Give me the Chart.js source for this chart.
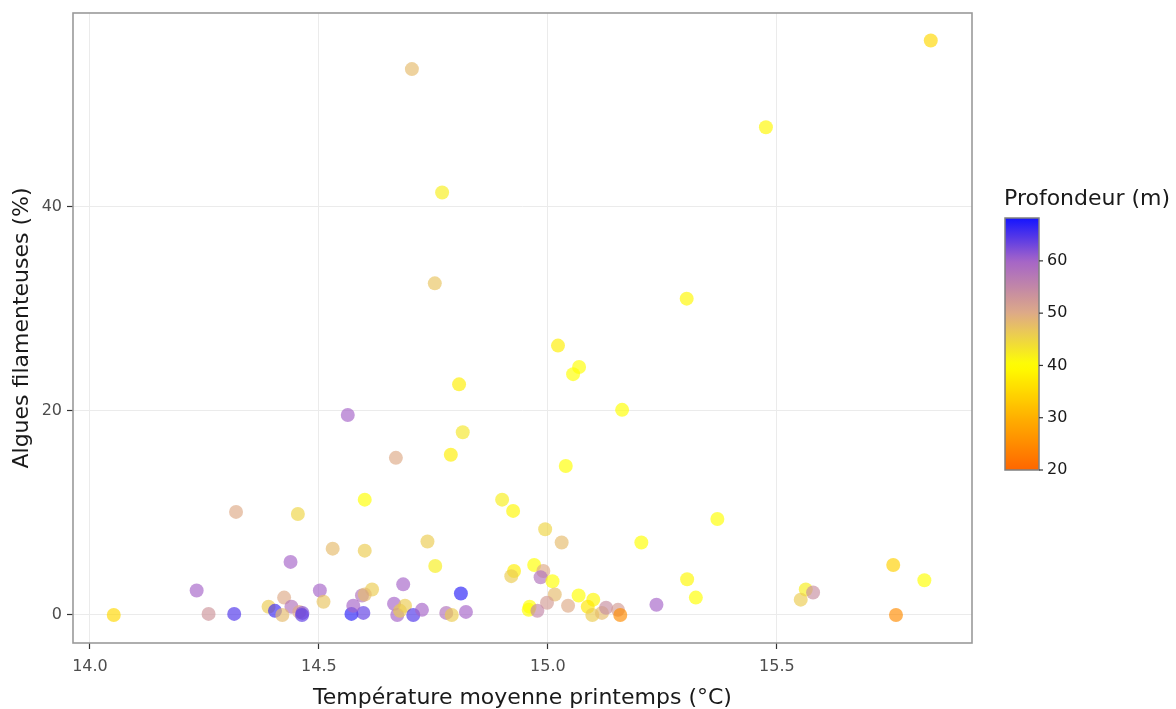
<!DOCTYPE html>
<html>
<head>
<meta charset="utf-8">
<script src="https://cdn.jsdelivr.net/npm/chart.js@4.4.1/dist/chart.umd.min.js"></script>
<style>
  html, body { margin: 0; padding: 0; background: #ffffff; }
  #wrap { width: 1176px; height: 709px; position: relative; }
</style>
</head>
<body>
<div id="wrap"><canvas id="c" width="1176" height="709"></canvas></div>
<script>
// ---- Data ----
const temperature = [
  14.052, 14.319, 14.454, 14.600, 14.530, 14.600, 14.438, 14.233, 14.502, 14.616,
  14.594, 14.600, 14.510, 14.424, 14.390, 14.404, 14.440, 14.420, 14.457, 14.464,
  14.463, 14.259, 14.315, 14.571, 14.597, 14.575, 14.684, 14.664, 14.671, 14.677,
  14.688, 14.737, 14.754, 14.706, 14.725, 14.810, 14.778, 14.790, 14.821, 14.900,
  14.924, 14.994, 15.030, 15.204, 14.970, 14.926, 14.920, 14.990, 14.984, 15.010,
  15.015, 15.067, 15.099, 15.087, 14.998, 15.044, 14.960, 14.958, 14.977, 15.097,
  15.118, 15.127, 15.153, 15.158, 15.237, 15.370, 15.304, 15.323, 15.563, 15.579,
  15.552, 15.754, 15.822, 15.760, 14.703, 15.836, 15.476, 14.769, 14.753, 15.303,
  15.022, 15.068, 15.055, 14.806, 15.162, 14.563, 14.814, 14.788, 14.668, 15.039
];
const algues = [
  0.0, 10.1, 9.9, 11.3, 6.5, 6.3, 5.2, 2.4, 2.4, 2.5,
  1.9, 2.0, 1.3, 1.7, 0.8, 0.4, 0.8, 0.0, 0.3, 0.2,
  0.0, 0.1, 0.1, 0.1, 0.2, 0.9, 3.0, 1.1, 0.0, 0.4,
  0.9, 7.2, 4.8, 0.0, 0.5, 2.1, 0.2, 0.0, 0.3, 11.3,
  10.2, 8.4, 7.1, 7.1, 4.9, 4.3, 3.8, 4.3, 3.7, 3.3,
  2.0, 1.9, 1.5, 0.8, 1.2, 0.9, 0.8, 0.5, 0.4, 0.0,
  0.2, 0.7, 0.5, 0.0, 1.0, 9.4, 3.5, 1.7, 2.5, 2.2,
  1.5, 4.9, 3.4, 0.0, 53.5, 56.3, 47.8, 41.4, 32.5, 31.0,
  26.4, 24.3, 23.6, 22.6, 20.1, 19.6, 17.9, 15.7, 15.4, 14.6
];
const profondeur = [
  35, 50, 45, 40, 48, 46, 60, 60, 60, 46,
  58, 48, 47, 50, 46, 66, 58, 48, 50, 62,
  64, 53, 65, 67, 64, 60, 60, 60, 60, 46,
  46, 46, 42, 65, 60, 67, 58, 46, 60, 42,
  39, 45, 48, 40, 40, 38, 46, 50, 58, 40,
  48, 40, 39, 37, 52, 50, 40, 40, 55, 46,
  48, 54, 52, 25, 60, 40, 39, 40, 42, 54,
  46, 34, 40, 25, 48, 35, 39, 42, 47, 39,
  38, 40, 40, 38, 40, 60, 43, 38, 50, 40
];
const xTicks = [14.0, 14.5, 15.0, 15.5];
const yTicks = [0, 20, 40];
const depthTicks = [20, 30, 40, 50, 60];

// ---- Colour scale ----
const depthMin = 20, depthMax = 68.2;
const colourStops = [
  [20, [255, 102, 0]],
  [30, [255, 176, 0]],
  [40, [255, 255, 0]],
  [50, [222, 170, 135]],
  [60, [165, 100, 200]],
  [68.2, [20, 20, 255]]
];
function depthRGB(d) {
  if (d <= colourStops[0][0]) return colourStops[0][1];
  for (let i = 1; i < colourStops.length; i++) {
    const [d1, c1] = colourStops[i];
    const [d0, c0] = colourStops[i - 1];
    if (d <= d1) {
      const t = (d - d0) / (d1 - d0);
      return c0.map((v, k) => Math.round(v + (c1[k] - v) * t));
    }
  }
  return colourStops[colourStops.length - 1][1];
}
function depthColour(d, a) {
  const c = depthRGB(d);
  return `rgba(${c[0]},${c[1]},${c[2]},${a})`;
}

const points = temperature.map((t, i) => ({ x: t, y: algues[i] }));
const pointColours = profondeur.map(d => depthColour(d, 0.66));

const FONT = "'DejaVu Sans', Verdana, sans-serif";

const panelAndLegend = {
  id: 'panelAndLegend',
  afterDraw(chart) {
    const ctx = chart.ctx;
    const a = chart.chartArea;
    ctx.save();
    ctx.strokeStyle = '#9a9a9a';
    ctx.lineWidth = 1.6;
    ctx.strokeRect(a.left, a.top, a.right - a.left, a.bottom - a.top);

    // colour bar
    const bx = 1005, bw = 34, by0 = 218, by1 = 470;
    const grad = ctx.createLinearGradient(0, by1, 0, by0);
    const steps = 40;
    for (let s = 0; s <= steps; s++) {
      const d = depthMin + (depthMax - depthMin) * s / steps;
      grad.addColorStop(s / steps, depthColour(d, 1));
    }
    ctx.fillStyle = grad;
    ctx.fillRect(bx, by0, bw, by1 - by0);
    ctx.strokeStyle = '#808080';
    ctx.lineWidth = 1.5;
    ctx.strokeRect(bx, by0, bw, by1 - by0);

    ctx.fillStyle = '#1a1a1a';
    ctx.font = `16px ${FONT}`;
    ctx.textBaseline = 'middle';
    ctx.textAlign = 'left';
    depthTicks.forEach(d => {
      const y = by1 - (d - depthMin) / (depthMax - depthMin) * (by1 - by0);
      ctx.strokeStyle = '#333';
      ctx.lineWidth = 1.2;
      ctx.beginPath();
      ctx.moveTo(bx + bw, y);
      ctx.lineTo(bx + bw + 4, y);
      ctx.stroke();
      ctx.fillText(String(d), bx + bw + 8, y);
    });
    ctx.font = `22px ${FONT}`;
    ctx.fillText('Profondeur (m)', 1004, 199);
    ctx.restore();
  }
};

new Chart(document.getElementById('c'), {
  type: 'scatter',
  data: {
    datasets: [{
      data: points,
      pointRadius: 7,
      pointHoverRadius: 7,
      pointBorderWidth: 0,
      pointBackgroundColor: pointColours,
      borderColor: 'rgba(0,0,0,0)'
    }]
  },
  options: {
    responsive: false,
    animation: false,
    events: [],
    layout: { padding: { top: 13, right: 204, left: 0, bottom: 0 } },
    plugins: { legend: { display: false }, tooltip: { enabled: false } },
    scales: {
      x: {
        type: 'linear',
        min: 13.963,
        max: 15.926,
        afterBuildTicks: s => { s.ticks = xTicks.map(v => ({ value: v })); },
        afterFit: s => { s.height = 66; s.paddingLeft = 0; s.paddingRight = 0; },
        border: { display: false },
        grid: { color: '#ebebeb', lineWidth: 1, tickColor: '#333333', tickLength: 6, tickWidth: 1.2 },
        ticks: {
          color: '#4d4d4d', font: { family: FONT, size: 16 }, padding: 8, maxRotation: 0,
          callback: v => v.toFixed(1)
        },
        title: {
          display: true, text: 'Température moyenne printemps (°C)',
          color: '#1a1a1a', font: { family: FONT, size: 22 }, padding: { top: 0, bottom: -2 }
        }
      },
      y: {
        type: 'linear',
        min: -2.75,
        max: 59.0,
        afterBuildTicks: s => { s.ticks = yTicks.map(v => ({ value: v })); },
        afterFit: s => { s.width = 73; s.paddingTop = 0; s.paddingBottom = 0; },
        border: { display: false },
        grid: { color: '#ebebeb', lineWidth: 1, tickColor: '#333333', tickLength: 6, tickWidth: 1.2 },
        ticks: {
          color: '#4d4d4d', font: { family: FONT, size: 16 }, padding: 5,
          callback: v => String(v)
        },
        title: {
          display: true, text: 'Algues filamenteuses (%)',
          color: '#1a1a1a', font: { family: FONT, size: 22 }, padding: { top: 9, bottom: 0 }
        }
      }
    }
  },
  plugins: [panelAndLegend]
});
</script>
</body>
</html>
